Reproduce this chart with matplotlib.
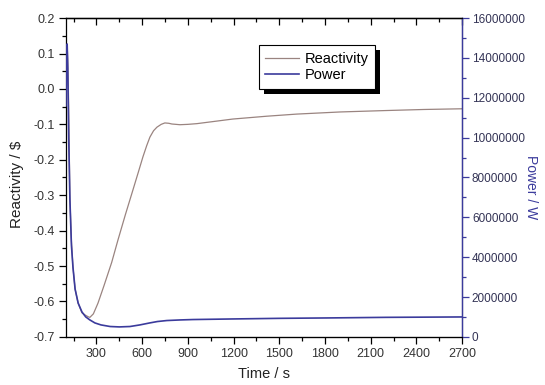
import matplotlib
matplotlib.use("Agg")
import matplotlib.pyplot as plt
from matplotlib.ticker import MultipleLocator, FormatStrFormatter
from matplotlib.patches import Rectangle

plt.rcParams['font.family'] = ['Liberation Sans', 'DejaVu Sans']

# reactivity ($) vs time (s)
t_react = [100, 104, 108, 112, 118, 126, 136, 146, 160, 180, 205, 225, 245, 257,
           280, 310, 350, 400, 441, 490, 539, 575, 605, 630, 651, 675, 697, 725,
           749, 775, 795, 848, 900, 959, 1050, 1195, 1418, 1615, 1900, 2200, 2450, 2700]
reactivity = [-0.05, 0.08, 0.125, 0.08, -0.05, -0.31, -0.43, -0.503, -0.565, -0.605,
              -0.632, -0.638, -0.643, -0.645, -0.635, -0.605, -0.555, -0.49, -0.427,
              -0.355, -0.286, -0.235, -0.192, -0.16, -0.136, -0.118, -0.108, -0.1,
              -0.096, -0.097, -0.099, -0.101, -0.1, -0.098, -0.093, -0.085, -0.077,
              -0.071, -0.065, -0.061, -0.058, -0.056]

# power (W) vs time (s)
t_power = [100, 104, 108, 112, 118, 126, 136, 146, 160, 180, 205, 230, 257, 290,
           330, 390, 450, 520, 585, 650, 700, 762, 850, 934, 1200, 1500, 1811, 2200, 2700]
power = [11.6e6, 14.0e6, 14.7e6, 13.5e6, 10.0e6, 6.9e6, 4.6e6, 3.5e6, 2.4e6, 1.7e6,
         1.25e6, 1.0e6, 0.85e6, 0.7e6, 0.6e6, 0.52e6, 0.5e6, 0.52e6, 0.6e6, 0.7e6,
         0.77e6, 0.82e6, 0.85e6, 0.87e6, 0.9e6, 0.93e6, 0.95e6, 0.98e6, 1.0e6]

blue = '#3b3b9c'
react_col = '#9a8480'

fig = plt.figure(figsize=(5.45, 3.85), dpi=100)
ax = fig.add_axes([0.121, 0.125, 0.727, 0.828])
ax2 = ax.twinx()

l1, = ax.plot(t_react, reactivity, color=react_col, lw=0.9, label='Reactivity')
l2, = ax2.plot(t_power, power, color=blue, lw=1.2, label='Power')

ax.set_xlim(100, 2700)
ax.set_ylim(-0.7, 0.2)
ax2.set_ylim(0, 16000000)

ax.xaxis.set_major_locator(MultipleLocator(300))
ax.xaxis.set_minor_locator(MultipleLocator(150))
ax.yaxis.set_major_locator(MultipleLocator(0.1))
ax.yaxis.set_minor_locator(MultipleLocator(0.05))
ax.yaxis.set_major_formatter(FormatStrFormatter('%.1f'))
ax2.yaxis.set_major_locator(MultipleLocator(2000000))
ax2.yaxis.set_minor_locator(MultipleLocator(1000000))
ax2.yaxis.set_major_formatter(FormatStrFormatter('%d'))

ax.tick_params(which='both', direction='out', labelsize=9, labelcolor='#333333',
               width=0.9, pad=3)
ax.tick_params(which='major', length=5)
ax.tick_params(which='minor', length=3)
ax2.tick_params(which='both', direction='out', colors=blue, labelsize=8.5,
                width=0.9, pad=2)
ax2.tick_params(axis='y', labelcolor='#333355')
ax2.tick_params(which='major', length=5)
ax2.tick_params(which='minor', length=3)

# top ticks point inward, no labels
top = ax.secondary_xaxis('top')
top.xaxis.set_major_locator(MultipleLocator(300))
top.xaxis.set_minor_locator(MultipleLocator(150))
top.tick_params(which='both', direction='in', labeltop=False, width=0.9)
top.tick_params(which='major', length=5)
top.tick_params(which='minor', length=3)

for s in ['left', 'bottom', 'top']:
    ax.spines[s].set_linewidth(0.9)
ax2.spines['right'].set_color(blue)
ax2.spines['right'].set_linewidth(1.0)
ax2.spines['left'].set_visible(False)
top.spines['top'].set_linewidth(0.9)

ax.set_xlabel('Time / s', fontsize=10.5, color='#222222', labelpad=5)
ax.set_ylabel('Reactivity / $', fontsize=11, color='#222222',
              va='center', ha='center', rotation_mode='default')
ax.yaxis.set_label_coords(-0.123, 0.48)
ax2.set_ylabel('Power / W', fontsize=10, color=blue, rotation=270,
               va='center', ha='center', rotation_mode='default')
ax2.yaxis.set_label_coords(1.175, 0.47)

leg = ax2.legend([l1, l2], ['Reactivity', 'Power'], loc='upper left',
                 bbox_to_anchor=(0.487, 0.915), borderaxespad=0, fancybox=False,
                 framealpha=1, edgecolor='black', fontsize=10.5, handlelength=2.3,
                 borderpad=0.45, labelspacing=0.15, handletextpad=0.4)
leg.get_frame().set_linewidth(0.8)
leg.set_zorder(10)

fig.canvas.draw()
bb = leg.get_window_extent()
shadow = Rectangle((bb.x0 + 5, bb.y0 - 5), bb.width, bb.height, transform=None,
                   facecolor='black', edgecolor='none', zorder=9)
ax2.add_artist(shadow)

fig.savefig('out.png', dpi=100)
